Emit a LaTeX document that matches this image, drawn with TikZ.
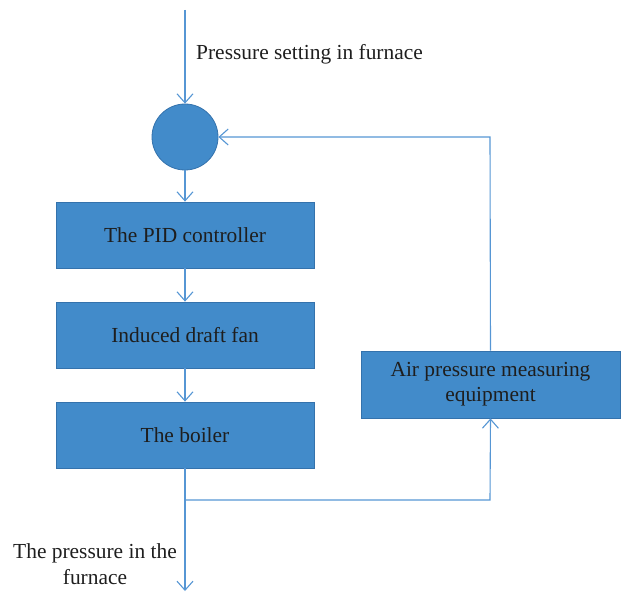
\documentclass[tikz,border=0pt]{standalone}
\usepackage{fontspec}
\setmainfont{Liberation Serif}
\usetikzlibrary{arrows.meta}
\definecolor{boxfill}{RGB}{66,139,202}
\definecolor{boxedge}{RGB}{52,114,172}
\definecolor{wire}{RGB}{86,150,212}
\definecolor{ink}{RGB}{30,30,30}
\tikzset{
  blockbox/.style={draw=boxedge, fill=boxfill, line width=0.8bp, minimum width=258bp, minimum height=66bp, inner sep=0pt, text=ink, font=\fontsize{21.5}{25}\selectfont, align=center},
  sumnode/.style={circle, draw=boxedge, fill=boxfill, line width=0.8bp, minimum size=66bp, inner sep=0pt},
  flow/.style={draw=wire, line width=1.1bp, -{Straight Barb[length=9bp,width=16bp,line width=1.1bp]}},
  wireline/.style={draw=wire, line width=1.1bp},
  lbl/.style={text=ink, font=\fontsize{21.5}{26}\selectfont, align=center, inner sep=0pt}
}
\begin{document}
\begin{tikzpicture}[x=1bp, y=-1bp]
\useasboundingbox (0,0) rectangle (621,592);
% source and summing junction
\coordinate (src) at (185,10);
\node[sumnode] (sum) at (185,137) {};
\node[lbl, anchor=west] (setlbl) at (196,54) {Pressure setting in furnace};
% forward path
\node[blockbox] (pid) at (185,235) {The PID controller};
\node[blockbox] (fan) at (185,335) {Induced draft fan};
\node[blockbox] (boiler) at (185,435) {The boiler};
% feedback element
\node[blockbox, minimum width=259bp, minimum height=67bp] (meas) at (490.5,384.5) {Air pressure measuring\\equipment};
% branch point and output
\coordinate (tap) at (185,500);
\coordinate (out) at (185,591);
\coordinate (corner) at (490,500);
\coordinate (topright) at (490,137);
\node[lbl] (outlbl) at (95,564) {The pressure in the\\furnace};
% connectors
\draw[flow] (src) -- (sum.north);
\draw[flow] (sum.south) -- (pid.north);
\draw[flow] (pid.south) -- (fan.north);
\draw[flow] (fan.south) -- (boiler.north);
\draw[wireline] (boiler.south) -- (tap);
\draw[flow] (tap) -- (out);
\draw[flow] (tap) -- (corner) -- (meas.south);
\draw[flow] (meas.north) -- (topright) -- (sum.east);
\end{tikzpicture}
\end{document}
